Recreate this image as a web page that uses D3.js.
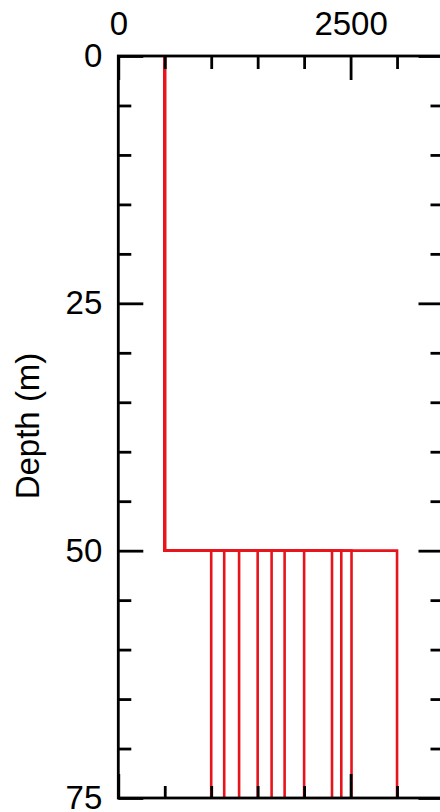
<!DOCTYPE html>
<html>
<head>
<meta charset="utf-8">
<script src="https://cdn.jsdelivr.net/npm/d3@7"></script>
<style>
  html, body { margin: 0; padding: 0; background: #fff; }
  svg { display: block; font-family: "Liberation Sans", Arial, sans-serif; }
</style>
</head>
<body>
<div id="chart"></div>
<script>
// top layer velocity, depth of interface, and the half-space velocity of each profile
var layerVs = 500;
var interfaceDepth = 50;
var maxDepth = 75;
var halfspaceVs = [1000, 1140, 1300, 1500, 1650, 1790, 2000, 2300, 2400, 2510, 3000];

var xMajorTicks = [0, 2500];
var xMinorTicks = [500, 1000, 1500, 2000, 3000];
var yMajorTicks = [0, 25, 50, 75];
var yMinorTicks = [5, 10, 15, 20, 30, 35, 40, 45, 55, 60, 65, 70];

var W = 440, H = 812;
var fontPx = "33px";
var svg = d3.select("#chart").append("svg").attr("width", W).attr("height", H);

var x = d3.scaleLinear().domain([0, 3500]).range([118.3, 443.5]);
var y = d3.scaleLinear().domain([0, maxDepth]).range([56, 798]);

// (window.top is read-only, so not "top")
var plotL = x.range()[0], plotR = x.range()[1], plotT = y.range()[0], plotB = y.range()[1];

// profiles
var line = d3.line().x(function(d) { return x(d[0]); }).y(function(d) { return y(d[1]); });
var profiles = halfspaceVs.map(function(v) {
    return [[layerVs, 0], [layerVs, interfaceDepth], [v, interfaceDepth], [v, maxDepth]];
});
svg.append("g").selectAll("path").data(profiles).enter().append("path")
    .attr("d", line)
    .attr("fill", "none")
    .attr("stroke", "#e8141c")
    .attr("stroke-width", 2.6);

// axes, ticks pointing inward
function styleAxis(g) {
    g.select(".domain").remove();
    g.attr("font-family", null).attr("font-size", null);
    g.selectAll("line").attr("stroke", "#000").attr("stroke-width", 2.8);
    g.selectAll("text").attr("fill", "#000").style("font-size", fontPx);
}

svg.append("g").attr("transform", "translate(0," + plotT + ")")
    .call(d3.axisTop(x).tickValues(xMinorTicks).tickSize(-13).tickFormat(""))
    .call(styleAxis);
svg.append("g").attr("transform", "translate(0," + plotT + ")")
    .call(d3.axisTop(x).tickValues(xMajorTicks).tickSize(-24).tickPadding(21).tickFormat(d3.format("d")))
    .call(styleAxis);

svg.append("g").attr("transform", "translate(0," + plotB + ")")
    .call(d3.axisBottom(x).tickValues(xMinorTicks).tickSize(-12).tickFormat(""))
    .call(styleAxis);
svg.append("g").attr("transform", "translate(0," + plotB + ")")
    .call(d3.axisBottom(x).tickValues(xMajorTicks).tickSize(-24).tickFormat(""))
    .call(styleAxis);

svg.append("g").attr("transform", "translate(" + plotL + ",0)")
    .call(d3.axisLeft(y).tickValues(yMinorTicks).tickSize(-13).tickFormat(""))
    .call(styleAxis);
svg.append("g").attr("transform", "translate(" + plotL + ",0)")
    .call(d3.axisLeft(y).tickValues(yMajorTicks).tickSize(-25).tickPadding(16).tickFormat(d3.format("d")))
    .call(styleAxis);

svg.append("g").attr("transform", "translate(" + plotR + ",0)")
    .call(d3.axisRight(y).tickValues(yMinorTicks).tickSize(-13).tickFormat(""))
    .call(styleAxis);
svg.append("g").attr("transform", "translate(" + plotR + ",0)")
    .call(d3.axisRight(y).tickValues(yMajorTicks).tickSize(-25).tickFormat(""))
    .call(styleAxis);

// frame
svg.append("rect")
    .attr("x", plotL).attr("y", plotT)
    .attr("width", plotR - plotL).attr("height", plotB - plotT)
    .attr("fill", "none").attr("stroke", "#000").attr("stroke-width", 2.8);

// y label
svg.append("text")
    .attr("transform", "translate(39,426) rotate(-90)")
    .attr("text-anchor", "middle")
    .style("font-size", fontPx)
    .text("Depth (m)");
</script>
</body>
</html>
